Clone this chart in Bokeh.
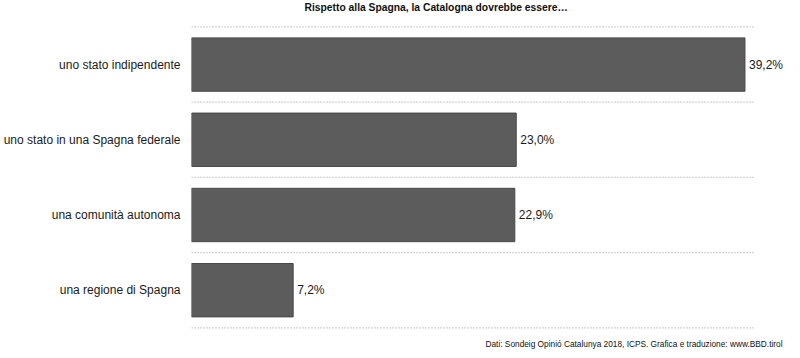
from bokeh.plotting import figure
from bokeh.models import ColumnDataSource, Range1d, FixedTicker, LabelSet, Label
from bokeh.core.properties import value
from bokeh.embed import file_html
from bokeh.resources import INLINE

categories = ["uno stato indipendente", "uno stato in una Spagna federale",
              "una comunità autonoma", "una regione di Spagna"]
values = [39.2, 23.0, 22.9, 7.2]
value_labels = [f"{v:.1f}".replace(".", ",") + "%" for v in values]
title_text = "Rispetto alla Spagna, la Catalogna dovrebbe essere…"
source_text = "Dati: Sondeig Opinió Catalunya 2018, ICPS. Grafica e traduzione: www.BBD.tirol"

FONT = "Liberation Sans"
SEP_END = 39.8   # extent of the dotted separators
X_END = 42.0
n = len(categories)
ypos = list(range(n))
src = ColumnDataSource(dict(y=ypos, v=values, lab=value_labels))
seps = [i - 0.5 for i in range(n + 1)]
sep_src = ColumnDataSource(dict(y=seps, x0=[0] * len(seps), x1=[SEP_END] * len(seps)))

p = figure(width=784, height=350, output_backend="svg", toolbar_location=None,
           x_axis_location=None,
           x_range=Range1d(0, X_END), y_range=Range1d(n - 0.5 + 0.302, -0.5 - 0.352),
           min_border_left=0, min_border_right=0, min_border_top=0, min_border_bottom=0)
p.outline_line_color = None
p.background_fill_color = "white"
p.border_fill_color = "white"
p.xgrid.visible = False
p.ygrid.visible = False

p.segment(x0="x0", x1="x1", y0="y", y1="y", source=sep_src,
          line_color="#a8a8a8", line_dash="1 2", line_width=1.2)

p.hbar(y="y", right="v", left=0, height=0.71, source=src,
       fill_color="#5c5c5c", line_color="#484848", line_width=1)

labels = LabelSet(x="v", y="y", text="lab", source=src, x_offset=4,
                  text_baseline="middle", text_font=value(FONT), text_font_size="12px",
                  text_color="#1a1a1a")
p.add_layout(labels)

ax = p.yaxis[0]
ax.ticker = FixedTicker(ticks=ypos)
ax.major_label_overrides = {i: c for i, c in enumerate(categories)}
ax.axis_line_color = None
ax.major_tick_line_color = None
ax.minor_tick_line_color = None
ax.major_tick_out = 0
ax.major_tick_in = 0
ax.major_label_standoff = 11
ax.major_label_text_font = FONT
ax.major_label_text_font_size = "12px"
ax.major_label_text_color = "#1a1a1a"

title = Label(x=113, y=343, x_units="screen", y_units="screen", text=title_text,
              text_font=FONT, text_font_size="10.3px", text_font_style="bold",
              text_color="#111111", text_baseline="middle", text_align="left")
p.add_layout(title)

footer = Label(x=X_END, y=7, x_units="data", y_units="screen", x_offset=-2,
               text=source_text, text_font=FONT, text_font_size="8.3px",
               text_color="#111111", text_baseline="middle", text_align="right")
p.add_layout(footer)

open("out.html", "w").write(file_html(p, INLINE))
